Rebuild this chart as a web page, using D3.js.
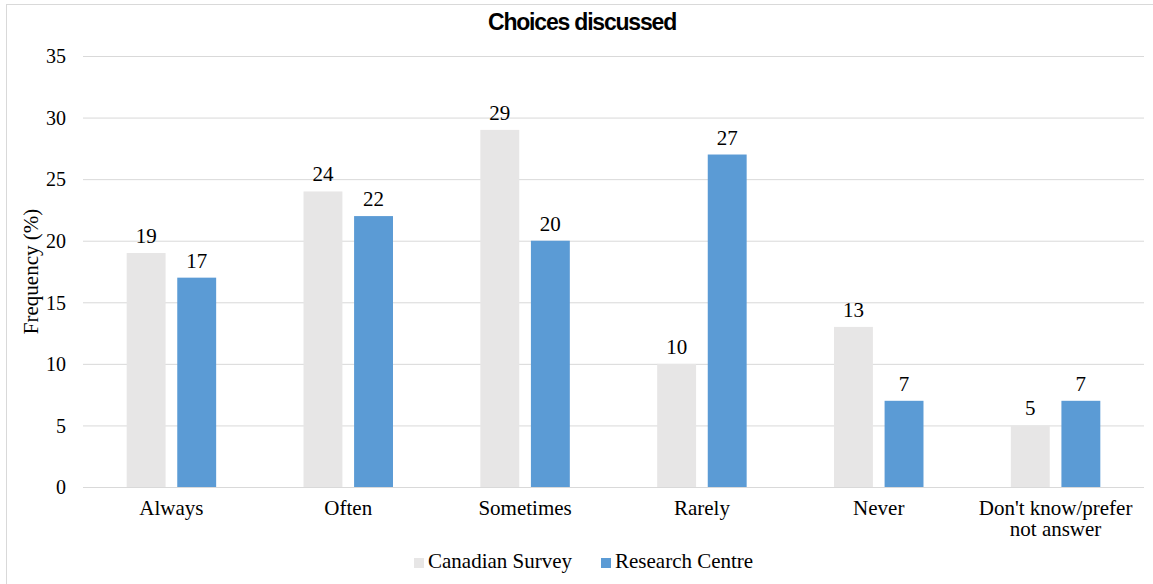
<!DOCTYPE html>
<html>
<head>
<meta charset="utf-8">
<script src="https://cdn.jsdelivr.net/npm/d3@7"></script>
<style>
  html, body { margin: 0; padding: 0; background: #fff; }
  svg { display: block; }
</style>
</head>
<body>
<svg id="chart" width="1153" height="584"></svg>
<script>
// Response categories (second entry split over two lines)
const categories = ["Always", "Often", "Sometimes", "Rarely", "Never", "Don't know/prefer\nnot answer"];
const seriesNames = ["Canadian Survey", "Research Centre"];
const canadianSurvey = [19, 24, 29, 10, 13, 5];
const researchCentre = [17, 22, 20, 27, 7, 7];
const yTicks = [0, 5, 10, 15, 20, 25, 30, 35];
const colors = ["#E7E6E6", "#5B9BD5"];

const svg = d3.select("#chart");
const W = 1153, H = 584;
const plot = { left: 83, right: 1144, top: 56, bottom: 487 };
const serif = "'Liberation Serif', 'Times New Roman', serif";

// outer chart frame
svg.append("rect")
  .attr("x", 6.5).attr("y", 4.5)
  .attr("width", 1200).attr("height", 700)
  .attr("fill", "none").attr("stroke", "#D9D9D9").attr("stroke-width", 1);

const x = d3.scaleBand().domain(categories).range([plot.left, plot.right]);
const y = d3.scaleLinear().domain([0, 35]).range([plot.bottom, plot.top]);

// grid lines + y tick labels
const yAxis = d3.axisLeft(y).tickValues(yTicks)
  .tickSize(-(plot.right - plot.left)).tickPadding(17).tickFormat(d3.format("d"));
const gy = svg.append("g").attr("transform", `translate(${plot.left},0)`).call(yAxis);
gy.select(".domain").remove();
gy.selectAll(".tick line").attr("stroke", "#D9D9D9").attr("stroke-width", 1);
gy.selectAll(".tick text")
  .attr("font-family", serif).attr("font-size", 20).attr("fill", "#000")
  .attr("dy", "0.34em");

// bars
const bw = x.bandwidth() * 0.22;
const gap = bw * 0.3;
const series = [canadianSurvey, researchCentre];
series.forEach((vals, si) => {
  const offset = si === 0 ? -gap / 2 - bw : gap / 2;
  const g = svg.append("g");
  g.selectAll("rect").data(vals).enter().append("rect")
    .attr("x", (d, i) => x(categories[i]) + x.bandwidth() / 2 + offset)
    .attr("y", d => y(d))
    .attr("width", bw)
    .attr("height", d => y(0) - y(d))
    .attr("fill", colors[si]);
  g.selectAll("text").data(vals).enter().append("text")
    .attr("x", (d, i) => x(categories[i]) + x.bandwidth() / 2 + offset + bw / 2)
    .attr("y", d => y(d) - 10)
    .attr("text-anchor", "middle")
    .attr("font-family", serif).attr("font-size", 21).attr("fill", "#000")
    .text(d => d);
});

// category labels
const gx = svg.append("g");
categories.forEach(c => {
  const t = gx.append("text")
    .attr("x", x(c) + x.bandwidth() / 2)
    .attr("y", 515)
    .attr("text-anchor", "middle")
    .attr("font-family", serif).attr("font-size", 21).attr("fill", "#000");
  c.split("\n").forEach((line, i) => {
    t.append("tspan").attr("x", x(c) + x.bandwidth() / 2).attr("dy", i === 0 ? 0 : 21).text(line);
  });
});

// y axis title
svg.append("text")
  .attr("transform", `translate(38,${(plot.top + plot.bottom) / 2}) rotate(-90)`)
  .attr("text-anchor", "middle")
  .attr("font-family", serif).attr("font-size", 21).attr("fill", "#000")
  .text("Frequency (%)");

// chart title
svg.append("text")
  .attr("x", 582).attr("y", 30)
  .attr("text-anchor", "middle")
  .attr("font-family", "'Liberation Sans', Arial, sans-serif")
  .attr("font-weight", "bold").attr("font-size", 23)
  .attr("letter-spacing", "-1.2px")
  .attr("fill", "#000")
  .text("Choices discussed");

// legend
const legendX = [414, 601];
seriesNames.forEach((name, i) => {
  svg.append("rect")
    .attr("x", legendX[i]).attr("y", 558)
    .attr("width", 10).attr("height", 10)
    .attr("fill", colors[i]);
  svg.append("text")
    .attr("x", legendX[i] + 14).attr("y", 568)
    .attr("font-family", serif).attr("font-size", 21).attr("fill", "#000")
    .text(name);
});
</script>
</body>
</html>
